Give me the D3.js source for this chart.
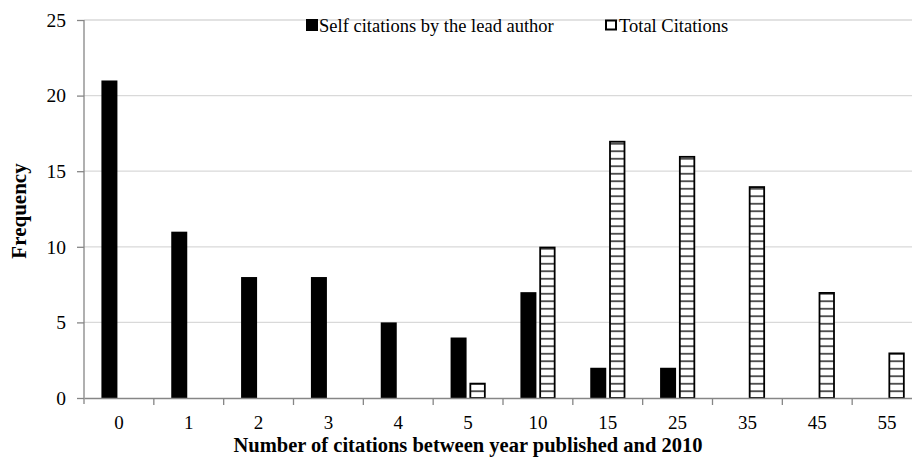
<!DOCTYPE html>
<html>
<head>
<meta charset="utf-8">
<script src="https://cdn.jsdelivr.net/npm/d3@7"></script>
<style>
  body { margin: 0; background: #fff; }
  text { font-family: "Liberation Serif", "Times New Roman", serif; }
</style>
</head>
<body>
<div id="chart"></div>
<script>
// data
let categories = ["0", "1", "2", "3", "4", "5", "10", "15", "25", "35", "45", "55"];
let selfCitations = [21, 11, 8, 8, 5, 4, 7, 2, 2, 0, 0, 0];
let totalCitations = [0, 0, 0, 0, 0, 1, 10, 17, 16, 14, 7, 3];
let yTicks = [0, 5, 10, 15, 20, 25];

let margin = {top: 20, right: -10, bottom: 69, left: 84},
    width = 912 - margin.left - margin.right,
    height = 467 - margin.top - margin.bottom;

let svg = d3.select("#chart")
    .append("svg")
    .attr("width", 912)
    .attr("height", 467)
    .append("g")
    .attr("transform", "translate(" + margin.left + "," + margin.top + ")");

// horizontal hatch for total citations
svg.append("defs")
    .append("pattern")
    .attr("id", "hatch")
    .attr("patternUnits", "userSpaceOnUse")
    .attr("width", 8)
    .attr("height", 7.5)
    .call(p => p.append("rect").attr("width", 8).attr("height", 7.5).attr("fill", "#fff"))
    .call(p => p.append("line")
        .attr("x1", 0).attr("x2", 8)
        .attr("y1", 3.75).attr("y2", 3.75)
        .attr("stroke", "#000")
        .attr("stroke-width", 1.3));

let x = d3.scaleBand()
    .domain(categories)
    .range([0, width]);

let y = d3.scaleLinear()
    .domain([0, 25])
    .range([height, 0]);

// gridlines
svg.append("g")
    .selectAll("line")
    .data(yTicks.filter(d => d > 0))
    .enter()
    .append("line")
    .attr("x1", 0)
    .attr("x2", width)
    .attr("y1", d => y(d))
    .attr("y2", d => y(d))
    .attr("stroke", "#d9d9d9")
    .attr("stroke-width", 1.3);

let barW = 16, gap = 3;

// self citations
svg.append("g")
    .selectAll("rect")
    .data(categories)
    .enter()
    .append("rect")
    .attr("x", (d, i) => x(d) + x.bandwidth() / 2 - gap / 2 - barW)
    .attr("y", (d, i) => y(selfCitations[i]))
    .attr("width", barW)
    .attr("height", (d, i) => height - y(selfCitations[i]))
    .attr("fill", "#000");

// total citations
svg.append("g")
    .selectAll("rect")
    .data(categories.filter((d, i) => totalCitations[i] > 0))
    .enter()
    .append("rect")
    .attr("x", d => x(d) + x.bandwidth() / 2 + gap / 2 + 0.75)
    .attr("y", d => y(totalCitations[categories.indexOf(d)]) + 0.75)
    .attr("width", barW - 1.5)
    .attr("height", d => height - y(totalCitations[categories.indexOf(d)]) - 0.75)
    .attr("fill", "url(#hatch)")
    .attr("stroke", "#000")
    .attr("stroke-width", 1.8);

// y axis
let yAxis = svg.append("g")
    .call(d3.axisLeft(y).tickValues(yTicks).tickSize(7).tickPadding(11))
    .call(g => g.select(".domain").attr("stroke", "#868686").attr("stroke-width", 1.3).attr("d", "M0," + (height + 6) + "V0"))
    .call(g => g.selectAll(".tick line").attr("stroke", "#868686").attr("stroke-width", 1.3))
    .call(g => g.selectAll(".tick text")
        .attr("font-family", "Liberation Serif")
        .attr("font-size", 19.5)
        .attr("fill", "#000"));

// x axis
let tickPos = d3.range(categories.length + 1).map(i => i * x.step());
let xAxis = svg.append("g")
    .attr("transform", "translate(0," + height + ")")
    .call(d3.axisBottom(x).tickSize(0).tickPadding(18))
    .call(g => g.select(".domain").attr("stroke", "#868686").attr("stroke-width", 1.3))
    .call(g => g.selectAll(".tick text")
        .attr("font-family", "Liberation Serif")
        .attr("font-size", 19)
        .attr("fill", "#000"));
xAxis.append("g")
    .selectAll("line")
    .data(tickPos.slice(1))
    .enter()
    .append("line")
    .attr("x1", d => d).attr("x2", d => d)
    .attr("y1", 0).attr("y2", 7)
    .attr("stroke", "#868686")
    .attr("stroke-width", 1.3);

// axis titles
svg.append("text")
    .attr("transform", "translate(" + (-58) + "," + (211 - margin.top) + ") rotate(-90)")
    .attr("text-anchor", "middle")
    .attr("font-weight", "bold")
    .attr("font-size", 21)
    .text("Frequency");

svg.append("text")
    .attr("x", 468 - margin.left)
    .attr("y", 452 - margin.top)
    .attr("text-anchor", "middle")
    .attr("font-weight", "bold")
    .attr("font-size", 20.5)
    .text("Number of citations between year published and 2010");

// legend
let legend = svg.append("g")
    .attr("transform", "translate(" + (306 - margin.left) + "," + (25 - margin.top) + ")");
legend.append("rect")
    .attr("x", 0).attr("y", -6)
    .attr("width", 12).attr("height", 12)
    .attr("fill", "#000");
legend.append("text")
    .attr("x", 13).attr("y", 6.5)
    .attr("font-size", 18.5)
    .text("Self citations by the lead author");
legend.append("rect")
    .attr("x", 300).attr("y", -4.5)
    .attr("width", 10).attr("height", 9)
    .attr("fill", "#fff")
    .attr("stroke", "#000")
    .attr("stroke-width", 2);
legend.append("text")
    .attr("x", 313).attr("y", 6.5)
    .attr("font-size", 18.5)
    .text("Total Citations");
</script>
</body>
</html>
